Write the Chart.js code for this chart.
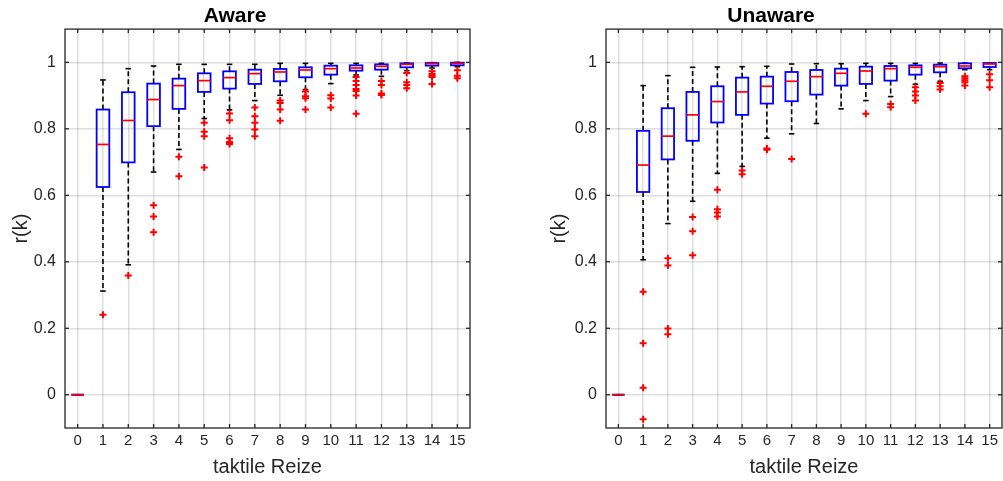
<!DOCTYPE html>
<html>
<head>
<meta charset="utf-8">
<script src="https://cdn.jsdelivr.net/npm/chart.js@4.4.1/dist/chart.umd.min.js"></script>
<style>
html, body { margin: 0; padding: 0; background: #fff; overflow: hidden; }
#wrap { position: relative; width: 1003px; height: 481px; overflow: hidden; }
canvas { position: absolute; top: 0; }
</style>
</head>
<body>
<div id="wrap">
    <canvas id="aware" width="535" height="481" style="left:0"></canvas>
    <canvas id="unaware" width="528" height="481" style="left:540px"></canvas>
</div>
<script>
const stimuli = [0, 1, 2, 3, 4, 5, 6, 7, 8, 9, 10, 11, 12, 13, 14, 15];
const yTicks = [0, 0.2, 0.4, 0.6, 0.8, 1];

// Aware
const awareUpper  = [0, 0.947, 0.981, 0.989, 0.994, 0.994, 0.994, 0.994, 0.997, 0.997, 0.997, 0.997, 0.997, 0.998, 0.999, 1.000];
const awareQ3     = [0, 0.858, 0.910, 0.936, 0.951, 0.967, 0.973, 0.978, 0.980, 0.985, 0.990, 0.991, 0.994, 0.997, 0.998, 0.999];
const awareMedian = [0, 0.753, 0.825, 0.888, 0.930, 0.945, 0.954, 0.966, 0.971, 0.977, 0.981, 0.983, 0.988, 0.994, 0.996, 0.997];
const awareQ1     = [0, 0.625, 0.699, 0.808, 0.860, 0.911, 0.921, 0.935, 0.943, 0.955, 0.963, 0.975, 0.978, 0.985, 0.990, 0.991];
const awareLower  = [0, 0.312, 0.391, 0.670, 0.738, 0.831, 0.857, 0.885, 0.901, 0.918, 0.936, 0.962, 0.958, 0.975, 0.983, 0.987];
const awareOutliers = [
    [],
    [0.241],
    [0.359],
    [0.570, 0.536, 0.489],
    [0.716, 0.657],
    [0.818, 0.791, 0.778, 0.684],
    [0.846, 0.826, 0.772, 0.760, 0.754],
    [0.864, 0.838, 0.818, 0.798, 0.778],
    [0.885, 0.878, 0.858, 0.824],
    [0.912, 0.898, 0.892, 0.858],
    [0.901, 0.891, 0.864],
    [0.956, 0.944, 0.932, 0.920, 0.914, 0.900, 0.845],
    [0.944, 0.932, 0.906, 0.902],
    [0.968, 0.940, 0.932, 0.922],
    [0.973, 0.965, 0.960, 0.956, 0.935],
    [0.976, 0.960, 0.952]
];

// Unaware
const unawareUpper  = [0, 0.930, 0.960, 0.985, 0.986, 0.987, 0.988, 0.995, 0.996, 0.996, 0.997, 0.997, 0.997, 0.998, 0.998, 0.998];
const unawareQ3     = [0, 0.794, 0.862, 0.911, 0.928, 0.954, 0.957, 0.971, 0.977, 0.981, 0.987, 0.989, 0.991, 0.993, 0.997, 0.998];
const unawareMedian = [0, 0.691, 0.778, 0.842, 0.882, 0.911, 0.928, 0.943, 0.957, 0.967, 0.974, 0.981, 0.985, 0.987, 0.989, 0.995];
const unawareQ1     = [0, 0.610, 0.708, 0.764, 0.819, 0.842, 0.876, 0.883, 0.903, 0.930, 0.935, 0.945, 0.963, 0.970, 0.982, 0.986];
const unawareLower  = [0, 0.406, 0.515, 0.582, 0.666, 0.687, 0.772, 0.785, 0.816, 0.860, 0.885, 0.897, 0.934, 0.943, 0.978, 0.978];
const unawareOutliers = [
    [],
    [0.310, 0.155, 0.021, -0.074],
    [0.411, 0.389, 0.199, 0.182],
    [0.535, 0.492, 0.420],
    [0.617, 0.558, 0.548, 0.536],
    [0.675, 0.663],
    [0.741, 0.737],
    [0.709],
    [],
    [],
    [0.845],
    [0.875, 0.865],
    [0.925, 0.912, 0.900, 0.885],
    [0.938, 0.928, 0.918],
    [0.958, 0.952, 0.946, 0.940, 0.930],
    [0.964, 0.946, 0.925]
];

const TEXT = '#262626';
Chart.defaults.font.family = '"Liberation Sans", Arial, Helvetica, sans-serif';
Chart.defaults.color = TEXT;

function line(ctx, x1, y1, x2, y2) {
    ctx.beginPath();
    ctx.moveTo(x1, y1);
    ctx.lineTo(x2, y2);
    ctx.stroke();
}

// whiskers, boxes and medians, drawn with the chart's scales
const boxPlotPlugin = {
    id: 'boxplot',
    beforeDatasetsDraw(chart, args, opts) {
        const { ctx, scales: { x, y } } = chart;
        const step = x.getPixelForValue(1) - x.getPixelForValue(0);
        const half = step * 0.25;
        const capHalf = step * 0.11;
        ctx.save();
        opts.stimuli.forEach((k, i) => {
            const px = x.getPixelForValue(k);
            const yUp = y.getPixelForValue(opts.upper[i]);
            const yQ3 = y.getPixelForValue(opts.q3[i]);
            const yMed = y.getPixelForValue(opts.median[i]);
            const yQ1 = y.getPixelForValue(opts.q1[i]);
            const yLo = y.getPixelForValue(opts.lower[i]);

            ctx.strokeStyle = '#000';
            ctx.lineWidth = 1.6;
            ctx.setLineDash([5, 3]);
            if (yQ3 - yUp > 0.5) line(ctx, px, yQ3, px, yUp);
            if (yLo - yQ1 > 0.5) line(ctx, px, yQ1, px, yLo);
            ctx.setLineDash([]);
            line(ctx, px - capHalf, yUp, px + capHalf, yUp);
            line(ctx, px - capHalf, yLo, px + capHalf, yLo);

            ctx.strokeStyle = '#0000ff';
            ctx.lineWidth = 1.8;
            ctx.strokeRect(px - half, yQ3, 2 * half, yQ1 - yQ3);

            ctx.strokeStyle = '#ff0000';
            ctx.lineWidth = 1.7;
            line(ctx, px - half, yMed, px + half, yMed);
        });
        ctx.restore();
    }
};

// axes box with inward ticks
const framePlugin = {
    id: 'frame',
    afterDraw(chart) {
        const { ctx, chartArea: a, scales: { x, y } } = chart;
        const len = 4;
        ctx.save();
        ctx.strokeStyle = TEXT;
        ctx.lineWidth = 1.3;
        ctx.strokeRect(a.left, a.top, a.right - a.left, a.bottom - a.top);
        x.ticks.forEach(t => {
            const px = x.getPixelForValue(t.value);
            line(ctx, px, a.bottom, px, a.bottom - len);
            line(ctx, px, a.top, px, a.top + len);
        });
        y.ticks.forEach(t => {
            const py = y.getPixelForValue(t.value);
            line(ctx, a.left, py, a.left + len, py);
            line(ctx, a.right, py, a.right - len, py);
        });
        ctx.restore();
    }
};

function buildOutliers(outliers) {
    const points = [];
    outliers.forEach((list, i) => {
        list.forEach(v => points.push({ x: stimuli[i], y: v }));
    });
    return points;
}

function makeChart(canvasId, config) {
    return new Chart(document.getElementById(canvasId), {
        type: 'scatter',
        data: {
            datasets: [{
                label: 'Ausreißer',
                data: buildOutliers(config.outliers),
                pointStyle: 'cross',
                pointRadius: 3.5,
                pointBorderWidth: 2,
                borderColor: '#ff0000',
                backgroundColor: '#ff0000'
            }]
        },
        options: {
            responsive: false,
            animation: false,
            layout: { padding: { left: 0, right: config.padRight, top: 0, bottom: 0 } },
            plugins: {
                legend: { display: false },
                tooltip: { enabled: false },
                title: {
                    display: true,
                    text: config.title,
                    color: '#000',
                    font: { size: 21, weight: 'bold', lineHeight: 1.1 },
                    padding: { top: 5, bottom: 1 }
                },
                boxplot: {
                    stimuli,
                    upper: config.upper,
                    q3: config.q3,
                    median: config.median,
                    q1: config.q1,
                    lower: config.lower
                }
            },
            scales: {
                x: {
                    type: 'linear',
                    min: -0.5,
                    max: 15.5,
                    afterBuildTicks: s => { s.ticks = stimuli.map(v => ({ value: v })); },
                    afterFit: s => { s.height = 53; },
                    ticks: { autoSkip: false, maxRotation: 0, padding: 4, color: TEXT, font: { size: 15 }, callback: v => String(v) },
                    grid: { color: 'rgba(0,0,0,0.13)', lineWidth: 1.5, drawTicks: false },
                    border: { display: false },
                    title: { display: true, text: 'taktile Reize', color: TEXT, font: { size: 20, lineHeight: 1.2 }, padding: { top: 0, bottom: 2 } }
                },
                y: {
                    min: -0.1,
                    max: 1.1,
                    afterBuildTicks: s => { s.ticks = yTicks.map(v => ({ value: v })); },
                    afterFit: s => { s.width = config.axisWidth; },
                    ticks: { padding: 9, color: TEXT, font: { size: 16 }, callback: v => String(v) },
                    grid: { color: 'rgba(0,0,0,0.13)', lineWidth: 1.5, drawTicks: false },
                    border: { display: false },
                    title: { display: true, text: 'r(k)', color: TEXT, font: { size: 20, lineHeight: 1.2 }, padding: { top: config.titlePad, bottom: 0 } }
                }
            }
        },
        plugins: [boxPlotPlugin, framePlugin]
    });
}

makeChart('aware', {
    title: 'Aware',
    upper: awareUpper, q3: awareQ3, median: awareMedian, q1: awareQ1, lower: awareLower,
    outliers: awareOutliers,
    padRight: 65, axisWidth: 65, titlePad: 9
});

makeChart('unaware', {
    title: 'Unaware',
    upper: unawareUpper, q3: unawareQ3, median: unawareMedian, q1: unawareQ1, lower: unawareLower,
    outliers: unawareOutliers,
    padRight: 66, axisWidth: 66, titlePad: 7
});
</script>
</body>
</html>
